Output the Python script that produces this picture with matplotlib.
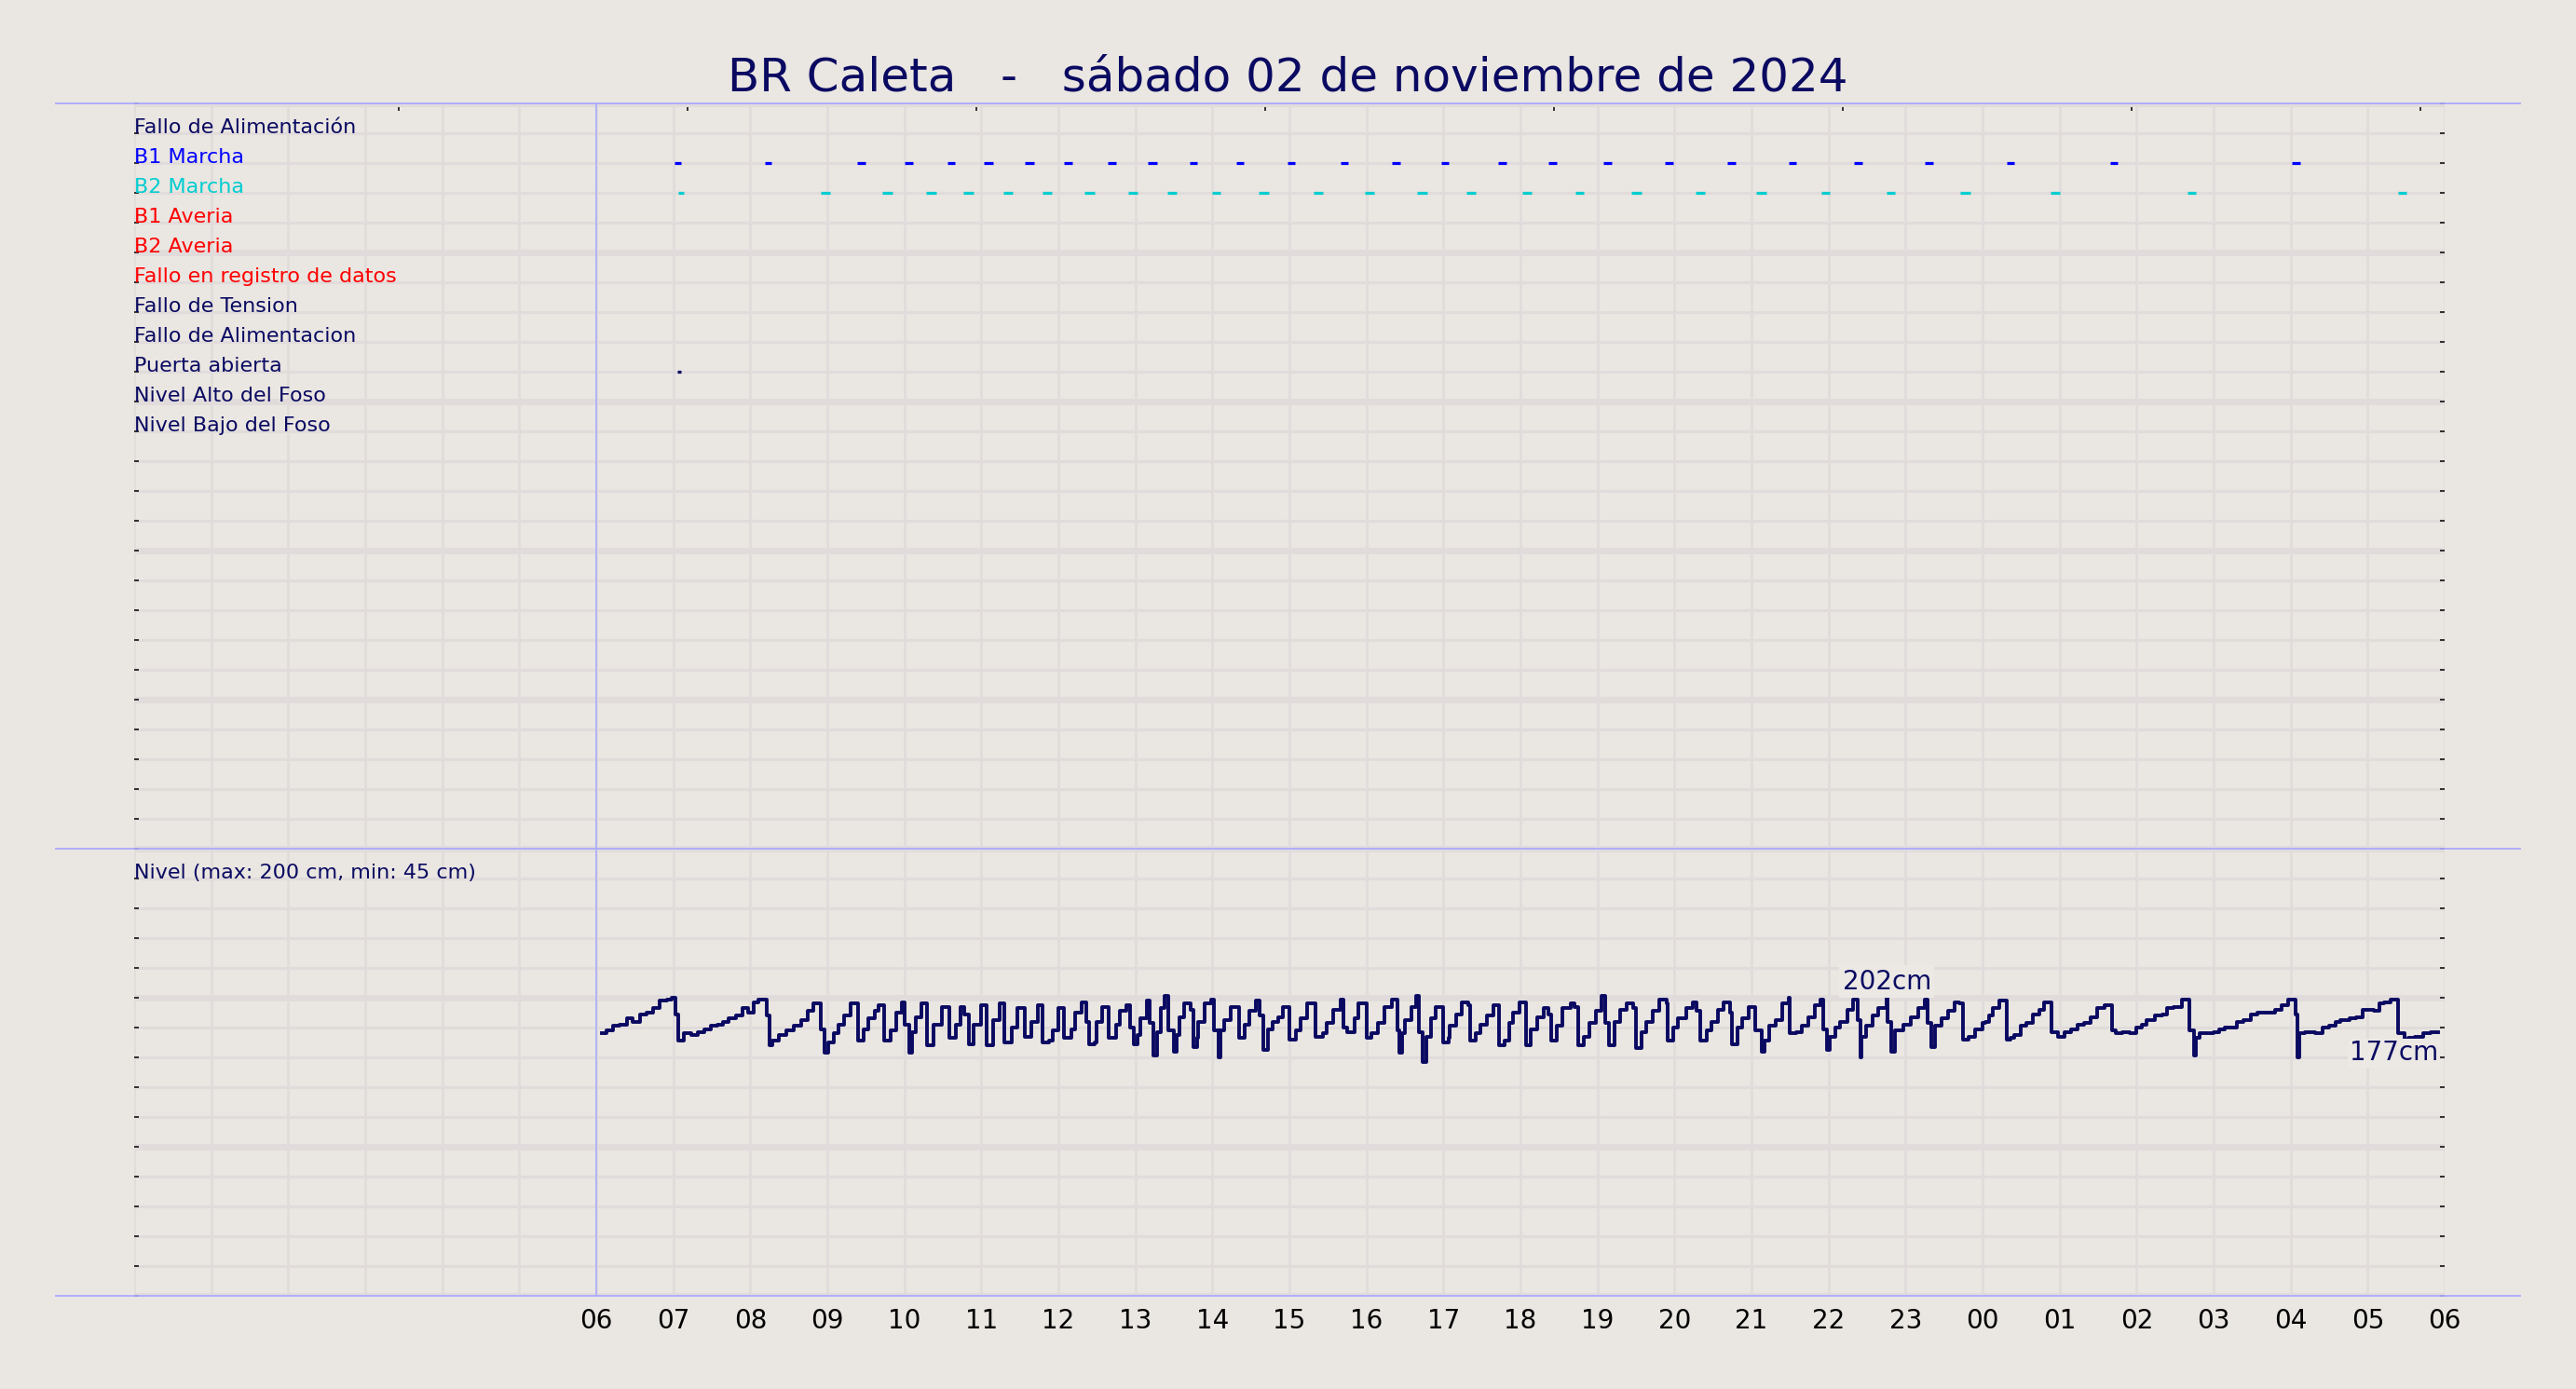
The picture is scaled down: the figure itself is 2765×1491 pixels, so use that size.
import numpy as np
import matplotlib
matplotlib.use("Agg")
import matplotlib.pyplot as plt
import matplotlib.transforms as mtransforms
from matplotlib.lines import Line2D
from matplotlib.ticker import MultipleLocator, FixedLocator

# textos
titulo = "BR Caleta   -   sábado 02 de noviembre de 2024"
horas = ["06", "07", "08", "09", "10", "11", "12", "13", "14", "15", "16", "17",
         "18", "19", "20", "21", "22", "23", "00", "01", "02", "03", "04", "05", "06"]
senales = ["Fallo de Alimentación", "B1 Marcha", "B2 Marcha", "B1 Averia", "B2 Averia",
           "Fallo en registro de datos", "Fallo de Tension", "Fallo de Alimentacion",
           "Puerta abierta", "Nivel Alto del Foso", "Nivel Bajo del Foso"]
texto_nivel = "Nivel (max: 200 cm, min: 45 cm)"

# eventos (horas desde las 00:00 del sabado)
b1_ini = [7.02, 8.19, 9.39, 10.01, 10.56, 11.03, 11.56, 12.07, 12.64, 13.16, 13.71,
          14.31, 14.98, 15.67, 16.33, 16.97, 17.71, 18.36, 19.08, 19.88, 20.69,
          21.48, 22.33, 23.25, 24.31, 25.66, 28.02]
b1_fin = [7.10, 8.28, 9.49, 10.11, 10.66, 11.15, 11.68, 12.18, 12.75, 13.28, 13.80,
          14.41, 15.07, 15.76, 16.44, 17.07, 17.82, 18.47, 19.18, 19.98, 20.79,
          21.58, 22.44, 23.36, 24.41, 25.76, 28.12]
b2_ini = [7.07, 8.92, 9.71, 10.28, 10.77, 11.29, 11.79, 12.34, 12.91, 13.41, 13.99,
          14.60, 15.31, 15.98, 16.66, 17.30, 18.02, 18.71, 19.44, 20.27, 21.06,
          21.91, 22.75, 23.71, 24.88, 26.66, 29.40]
b2_fin = [7.14, 9.04, 9.85, 10.41, 10.90, 11.41, 11.92, 12.47, 13.03, 13.54, 14.11,
          14.73, 15.44, 16.10, 16.79, 17.42, 18.14, 18.82, 19.57, 20.39, 21.19,
          22.02, 22.86, 23.84, 25.00, 26.77, 29.50]
puerta_ini = [7.05]
puerta_fin = [7.10]

# nivel del foso: minutos desde las 06:00 y nivel en cm
nivel_min = [4, 8, 13, 18, 24, 28, 34, 39, 44, 49, 55, 59, 62, 64, 68, 74, 79, 84, 89, 94,
             99, 103, 109, 114, 118, 123, 126, 133, 135, 137, 142, 148, 154, 160, 165, 169,
             175, 178, 181, 185, 189, 193, 198, 204, 208, 212, 217, 220, 224, 229, 234, 238,
             240, 244, 246, 249, 253, 258, 263, 269, 275, 280, 284, 287, 290, 294, 300, 304,
             309, 314, 318, 324, 328, 334, 339, 344, 348, 353, 356,
             360, 364, 370, 373, 378, 382, 384, 388, 390, 394, 399, 405, 408, 413, 416, 419,
             422, 424, 429, 431, 434, 437, 440, 443, 446, 450, 452, 454, 458, 463, 465, 468,
             469, 474, 479, 481, 485, 486, 489, 494, 501, 505, 509, 514, 517, 520, 523, 527,
             531, 535, 540, 545, 549, 554, 560, 566, 569, 574, 580, 582, 585, 591, 594, 600,
             604, 609, 614, 620, 624, 626, 628, 630, 635, 639, 641, 644, 647, 650, 654, 660,
             664, 665, 670, 674, 679, 681, 685, 689, 694, 699, 703, 708, 711, 714, 719,
             724, 728, 733, 738, 742, 744, 748, 753, 759, 762, 765, 769, 774, 779, 783, 786,
             789, 793, 798, 803, 808, 810, 814, 818, 823, 828, 834, 835, 839, 843, 849, 854,
             857, 860, 865, 869, 874, 878, 883, 885, 889, 893, 898, 903, 908, 910, 914, 919,
             924, 929, 930, 935, 939, 944, 949, 954, 956, 959, 961, 965, 969, 975, 979, 983,
             985, 986, 989, 994, 999, 1005, 1006, 1009, 1012, 1018, 1024, 1030, 1035, 1037,
             1040, 1043, 1048, 1053, 1058, 1062, 1065, 1069, 1074, 1080,
             1082, 1085, 1088, 1093, 1099, 1102, 1105, 1110, 1114, 1119, 1124, 1128, 1134,
             1139, 1144, 1149, 1154, 1159, 1164, 1169, 1175, 1181, 1184, 1189, 1195, 1200,
             1204, 1208, 1214, 1220, 1224, 1229, 1235, 1241, 1245, 1246, 1249, 1260, 1264,
             1269, 1278, 1283, 1289, 1294, 1308, 1313, 1318, 1324, 1325, 1327, 1331, 1339,
             1345, 1350, 1355, 1359, 1366, 1371, 1376, 1385, 1389, 1393, 1398, 1404, 1409,
             1412, 1417, 1423, 1429, 1435]
nivel_cm = [176, 178, 181, 182, 186, 184, 189, 190, 193, 198, 199, 200, 189, 171, 176, 175,
            177, 179, 181, 182, 184, 186, 188, 193, 190, 197, 199, 188, 168, 171, 175, 178,
            181, 185, 191, 196, 179, 163, 170, 176, 182, 188, 196, 171, 179, 186, 191, 195,
            171, 178, 190, 197, 182, 163, 177, 187, 196, 168, 182, 194, 173, 182, 194, 189,
            169, 182, 195, 168, 185, 196, 170, 180, 193, 174, 184, 195, 170, 171, 178,
            193, 173, 179, 190, 197, 184, 169, 170, 184, 194, 173, 182, 191, 195, 180, 169,
            175, 186, 198, 183, 161, 177, 193, 201, 178, 164, 175, 187, 196, 192, 167, 173,
            184, 196, 199, 178, 160, 178, 185, 194, 173, 182, 191, 198, 188, 165, 179, 184,
            187, 194, 172, 178, 186, 196, 174, 176, 183, 192, 199, 180, 177, 186, 196, 173,
            176, 183, 194, 199, 178, 163, 176, 185, 194, 201, 177, 157, 174, 186, 194, 170,
            173, 181, 189, 197, 195, 171, 176, 182, 188, 195, 168, 171, 183, 190, 197,
            168, 179, 187, 193, 189, 171, 181, 193, 196, 194, 168, 174, 183, 191, 201, 183,
            168, 184, 192, 196, 193, 166, 177, 184, 191, 199, 196, 171, 180, 186, 193, 197,
            191, 171, 178, 184, 192, 197, 190, 169, 180, 186, 194, 178, 164, 171, 181, 185,
            196, 200, 176, 177, 181, 187, 195, 199, 179, 165, 174, 180, 184, 192, 199, 185,
            160, 174, 181, 188, 193, 202, 184, 164, 178, 182, 187, 193, 199, 183,
            167, 181, 186, 191, 197, 196, 172, 174, 179, 183,
            184, 188, 193, 198, 172, 173, 175, 181, 183, 189, 192, 197, 177,
            174, 177, 179, 182, 183, 187, 193, 195, 178, 176, 177, 176, 180,
            182, 185, 188, 189, 193, 194, 199, 178, 161, 173, 176, 177, 179,
            180, 184, 185, 189, 190, 192, 195, 199, 189, 160, 176, 177, 176,
            180, 181, 184, 185, 186, 187, 192, 191, 196, 197, 199, 176, 172,
            173, 174, 176, 177, 177]

# estilos
FONDO = "#eae6e1"
REJILLA = "#e1dcdb"
MARINO = "#0a0a62"
AZUL_LINEA = "#aaaaff"
colores = [MARINO, "#0000ff", "#00cdd0", "#ff0000", "#ff0000", "#ff0000",
           MARINO, MARINO, MARINO, MARINO, MARINO]

W, H = 2765, 1491
fig = plt.figure(figsize=(W / 100, H / 100), dpi=100, facecolor=FONDO)
ax = fig.add_axes([144 / W, 100 / H, 2480 / W, 1280 / H])
ax.set_facecolor(FONDO)
ax.set_xlim(0, 30)
ax.set_ylim(0, 40)
for s in ax.spines.values():
    s.set_visible(False)

# ejes y rejilla
ax.set_xticks(range(31))
ax.set_xticklabels([""] * 6 + horas)
ax.tick_params(axis="x", which="major", length=0, pad=9.5, labelsize=20, labelcolor="black")
ax.xaxis.set_minor_locator(FixedLocator(np.arange(3.43, 30, 3.75)))
ax.tick_params(axis="x", which="minor", bottom=False, top=True, direction="in",
               length=5.5, width=1.1, color="black")
ax.yaxis.set_major_locator(MultipleLocator(5))
ax.yaxis.set_minor_locator(MultipleLocator(1))
ax.tick_params(axis="y", which="both", left=True, right=True, direction="in",
               length=3.5, width=1.1, color="black", labelleft=False)
ax.grid(True, axis="x", which="major", color=REJILLA, lw=2)
ax.grid(True, axis="y", which="major", color=REJILLA, lw=5)
ax.grid(True, axis="y", which="minor", color=REJILLA, lw=2.2)
ax.set_axisbelow(True)

# lineas azules
ax.axvline(6, color=AZUL_LINEA, lw=1.2, zorder=1.5)
trans = mtransforms.blended_transform_factory(fig.transFigure, ax.transData)
for yy in [40, 15, 0]:
    fig.add_artist(Line2D([60 / W, 2705 / W], [yy, yy], transform=trans,
                          color=AZUL_LINEA, lw=1.3, zorder=3))

# etiquetas de senales
for i, nombre in enumerate(senales):
    ax.text(0, 39 - i, nombre, color=colores[i], fontsize=16, ha="left", va="baseline")
ax.text(0, 14, texto_nivel, color=MARINO, fontsize=16, ha="left", va="baseline")

# eventos
ax.hlines([38] * len(b1_ini), b1_ini, b1_fin, color=colores[1], lw=2.3, zorder=4)
ax.hlines([37] * len(b2_ini), b2_ini, b2_fin, color=colores[2], lw=2.3, zorder=4)
ax.hlines([31] * len(puerta_ini), puerta_ini, puerta_fin, color=colores[8], lw=2.3, zorder=4)

# nivel
t = 6 + np.array(nivel_min) / 60.0
n = np.array(nivel_cm)
ax.step(t, n / 20.0, where="post", color=MARINO, lw=2.8, zorder=5)

imax = int(np.argmax(n))
ax.annotate(f"{n[imax]}cm", ((t[imax] + t[imax + 1]) / 2, n[imax] / 20.0),
            ha="center", va="bottom", fontsize=20, color=MARINO, zorder=6,
            bbox=dict(boxstyle="square,pad=0.12", fc="#ece9e5", ec="none"))
ax.annotate(f"{n[-1]}cm", (t[-1], n[-1] / 20.0), xytext=(0, -6), textcoords="offset points",
            ha="right", va="top", fontsize=20, color=MARINO, zorder=6,
            bbox=dict(boxstyle="square,pad=0.05", fc="#ece9e5", ec="none"))

fig.text(0.5, 1 - 98 / H, titulo, ha="center", va="baseline", fontsize=36, color=MARINO)

fig.savefig("out.png", dpi=100, facecolor=FONDO)
